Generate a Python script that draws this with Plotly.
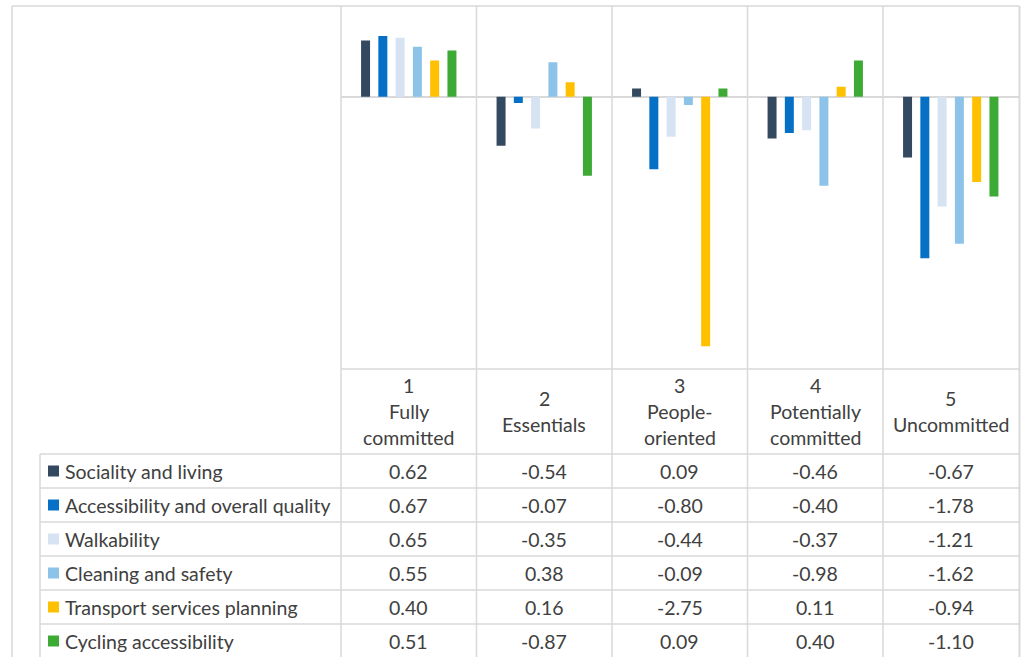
import plotly.graph_objects as go

# Cluster headers (one list of text lines per cluster)
cluster_keys = ["1", "2", "3", "4", "5"]
header_lines = [
    ["1", "Fully", "committed"],
    ["2", "Essentials"],
    ["3", "People-", "oriented"],
    ["4", "Potentially", "committed"],
    ["5", "Uncommitted"],
]

# Factor scores per cluster
series_names = [
    "Sociality and living",
    "Accessibility and overall quality",
    "Walkability",
    "Cleaning and safety",
    "Transport services planning",
    "Cycling accessibility",
]
sociality = [0.62, -0.54, 0.09, -0.46, -0.67]
accessibility = [0.67, -0.07, -0.80, -0.40, -1.78]
walkability = [0.65, -0.35, -0.44, -0.37, -1.21]
cleaning = [0.55, 0.38, -0.09, -0.98, -1.62]
transport = [0.40, 0.16, -2.75, 0.11, -0.94]
cycling = [0.51, -0.87, 0.09, 0.40, -1.10]
series_values = [sociality, accessibility, walkability, cleaning, transport, cycling]
series_colors = ["#33495F", "#0570C6", "#D6E3F3", "#8DC3E8", "#FFC000", "#3DAA36"]

W, H = 1024, 657
FONT = "Lato"
FSIZE = 19.5
TXT = "#404040"
GRID = "#D9D9D9"


def px(x):
    return x / W


def py(y):
    return 1 - y / H


# layout geometry in pixels
plot_left, plot_right = 341, 1018.5
plot_top, plot_bottom = 6, 369
outer_left = 12
table_left = 40
header_bottom = 454
row_h = 34
table_bottom = 660
col_w = (plot_right - plot_left) / len(cluster_keys)
col_edges = [plot_left + i * col_w for i in range(len(cluster_keys) + 1)]
col_centers = [plot_left + (i + 0.5) * col_w for i in range(len(cluster_keys))]

fig = go.Figure()
for name, vals, color in zip(series_names, series_values, series_colors):
    fig.add_trace(go.Bar(
        x=cluster_keys, y=vals, name=name,
        marker=dict(color=color, line=dict(width=0)),
        showlegend=False,
    ))

shapes = []


def hline(y, x0, x1, w=1.5):
    shapes.append(dict(type="line", xref="paper", yref="paper",
                       x0=px(x0), x1=px(x1), y0=py(y), y1=py(y),
                       line=dict(color=GRID, width=w)))


def vline(x, y0, y1, w=1.5):
    shapes.append(dict(type="line", xref="paper", yref="paper",
                       x0=px(x), x1=px(x), y0=py(y0), y1=py(y1),
                       line=dict(color=GRID, width=w)))


# outer frame
hline(plot_top, outer_left, plot_right + 1)
vline(outer_left, plot_top, table_bottom)
vline(plot_right + 1, plot_top, table_bottom, w=2)
# column separators, running through the plot and the data table
for x in col_edges[:-1]:
    vline(x, plot_top, table_bottom)
# plot bottom / header row top
hline(plot_bottom, plot_left, plot_right + 1)
# table rows
vline(table_left, header_bottom, table_bottom)
for i in range(len(series_names) + 1):
    hline(header_bottom + i * row_h, table_left, plot_right + 1)

annotations = []
# cluster header text, one line per annotation
line_gap = 26
header_mid = (plot_bottom + header_bottom) / 2
for cx, lines in zip(col_centers, header_lines):
    n = len(lines)
    for j, t in enumerate(lines):
        yy = header_mid + (j - (n - 1) / 2) * line_gap
        annotations.append(dict(text=t, x=px(cx), y=py(yy), xref="paper", yref="paper",
                                xanchor="center", yanchor="middle", showarrow=False,
                                font=dict(family=FONT, size=FSIZE, color=TXT)))

# table rows: legend key, series name, values
for i, (name, vals, color) in enumerate(zip(series_names, series_values, series_colors)):
    yc = header_bottom + (i + 0.5) * row_h
    shapes.append(dict(type="rect", xref="paper", yref="paper",
                       x0=px(48), x1=px(59), y0=py(yc - 5.5), y1=py(yc + 5.5),
                       fillcolor=color, line=dict(width=0)))
    annotations.append(dict(text=name, x=px(63), y=py(yc), xref="paper", yref="paper",
                            xanchor="left", yanchor="middle", showarrow=False,
                            font=dict(family=FONT, size=FSIZE, color=TXT)))
    for cx, v in zip(col_centers, vals):
        annotations.append(dict(text=f"{v:.2f}", x=px(cx), y=py(yc), xref="paper", yref="paper",
                                xanchor="center", yanchor="middle", showarrow=False,
                                font=dict(family=FONT, size=FSIZE, color=TXT)))

fig.update_layout(
    width=W, height=H,
    margin=dict(l=0, r=0, t=0, b=0),
    paper_bgcolor="white", plot_bgcolor="white",
    barmode="group", bargap=0.235, bargroupgap=0.48,
    xaxis=dict(domain=[px(plot_left), px(plot_right)], showticklabels=False,
               showgrid=False, zeroline=False, showline=False, ticks=""),
    yaxis=dict(domain=[py(plot_bottom), py(plot_top)], range=[-3, 1],
               showticklabels=False, showgrid=False, zeroline=True,
               zerolinecolor=GRID, zerolinewidth=2, showline=False, ticks=""),
    shapes=shapes,
    annotations=annotations,
)

fig.write_html("out.html")
